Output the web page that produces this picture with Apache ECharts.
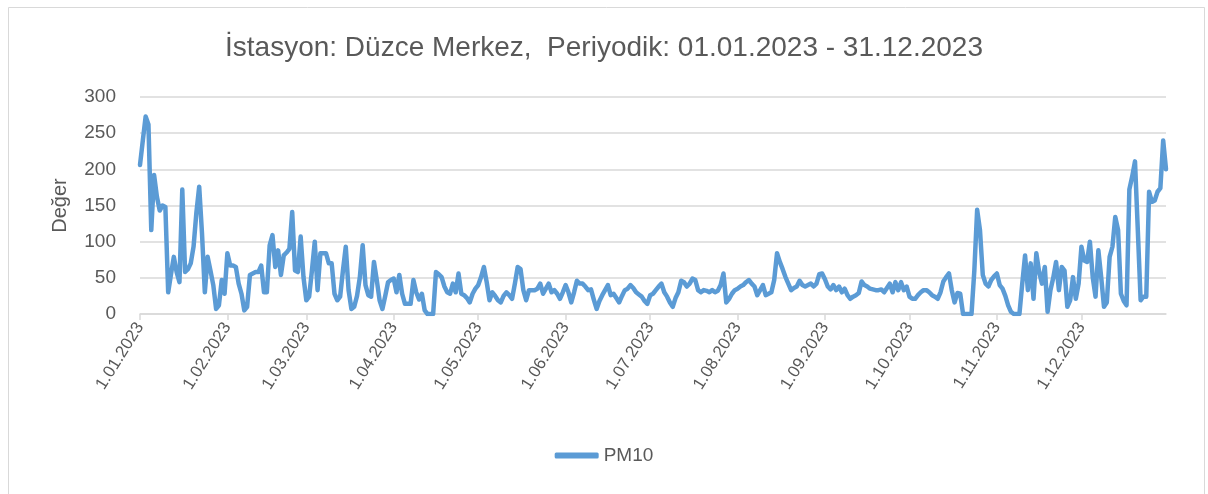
<!DOCTYPE html>
<html>
<head>
<meta charset="utf-8">
<script src="https://cdn.jsdelivr.net/npm/echarts@6/dist/echarts.min.js"></script>
<style>
html,body{margin:0;padding:0;background:#fff;}
#chart{width:1208px;height:494px;}
</style>
</head>
<body>
<div id="chart"></div>
<script>
// Daily PM10 values (µg/m³)
const jan = [206, 240, 273, 262, 116, 192, 162, 143, 150, 148, 30, 55, 79, 58, 44, 172, 58, 62, 70, 93, 140, 176, 111, 30, 79, 60, 40, 7, 12, 47, 28];
const feb = [84, 67, 67, 65, 42, 28, 5, 10, 54, 56, 58, 58, 67, 30, 30, 95, 109, 65, 88, 54, 81, 85, 90, 141, 60, 58, 107, 51];
const mar = [19, 24, 60, 100, 33, 84, 84, 84, 70, 70, 28, 19, 24, 60, 93, 33, 7, 10, 25, 51, 95, 40, 26, 24, 72, 47, 19, 7, 25, 44, 47];
const apr = [49, 30, 54, 28, 14, 14, 14, 47, 30, 20, 28, 5, 0, 0, 0, 58, 55, 51, 38, 30, 28, 42, 30, 56, 28, 26, 22, 16, 28, 35];
const may = [40, 51, 65, 44, 19, 30, 25, 19, 16, 25, 30, 26, 21, 42, 65, 62, 33, 19, 33, 33, 33, 35, 42, 28, 35, 42, 30, 33, 28, 21, 30];
const jun = [40, 30, 16, 30, 46, 42, 42, 38, 33, 34, 20, 7, 18, 26, 33, 40, 26, 28, 22, 16, 25, 33, 35, 40, 36, 30, 27, 24, 18, 14];
const jul = [26, 28, 33, 38, 42, 30, 24, 16, 10, 22, 30, 46, 44, 38, 42, 49, 47, 33, 30, 33, 32, 30, 33, 30, 32, 40, 56, 16, 21, 28, 33];
const aug = [35, 38, 40, 44, 47, 42, 38, 26, 33, 40, 26, 28, 30, 47, 84, 72, 62, 51, 42, 33, 36, 38, 46, 40, 38, 40, 42, 38, 42, 55, 56];
const sep = [48, 38, 34, 40, 33, 38, 30, 35, 26, 21, 24, 26, 29, 45, 40, 38, 35, 34, 33, 33, 34, 30, 36, 42, 30, 44, 33, 44, 33, 38];
const oct = [24, 21, 21, 26, 30, 33, 33, 30, 26, 24, 21, 30, 45, 51, 56, 33, 16, 29, 28, 0, 0, 0, 0, 60, 144, 116, 54, 42, 38, 47, 52];
const nov = [56, 40, 35, 25, 12, 3, 0, 0, 0, 42, 81, 33, 70, 21, 84, 58, 42, 65, 3, 33, 50, 72, 33, 65, 60, 10, 19, 51, 21, 42];
const dec = [93, 74, 72, 100, 51, 24, 88, 51, 10, 16, 79, 93, 134, 116, 28, 18, 12, 172, 190, 211, 116, 19, 24, 24, 169, 155, 157, 169, 174, 240, 200];

const months = [jan, feb, mar, apr, may, jun, jul, aug, sep, oct, nov, dec];
const monthLabels = ["1.01.2023", "1.02.2023", "1.03.2023", "1.04.2023", "1.05.2023", "1.06.2023",
                     "1.07.2023", "1.08.2023", "1.09.2023", "1.10.2023", "1.11.2023", "1.12.2023"];
const yTicks = [0, 50, 100, 150, 200, 250, 300];

// Build day categories (d.mm.2023) and the value list
const categories = [];
const pm10 = [];
months.forEach(function (arr, m) {
  arr.forEach(function (v, d) {
    categories.push((d + 1) + "." + String(m + 1).padStart(2, "0") + ".2023");
    pm10.push(v);
  });
});
const isMonthStart = function (idx, val) { return monthLabels.indexOf(val) !== -1; };

const chart = echarts.init(document.getElementById('chart'));
const txt = '#595959';
const fam = '"Liberation Sans", "DejaVu Sans", sans-serif';
chart.setOption({
  animation: false,
  backgroundColor: '#ffffff',
  textStyle: { fontFamily: fam },
  title: {
    text: 'İstasyon: Düzce Merkez,  Periyodik: 01.01.2023 - 31.12.2023',
    left: 'center', top: 29,
    textStyle: { color: txt, fontSize: 28, fontWeight: 'normal', fontFamily: fam }
  },
  graphic: [{
    type: 'rect', left: 6, top: 5,
    shape: { width: 1196, height: 487 },
    style: { fill: 'none', stroke: '#d9d9d9', lineWidth: 1 },
    silent: true, z: -1
  }],
  legend: {
    bottom: 24, left: 'center',
    icon: 'roundRect', itemWidth: 44, itemHeight: 6, itemGap: 8,
    textStyle: { color: txt, fontSize: 19, fontFamily: fam },
    data: ['PM10']
  },
  grid: { left: 140, right: 42, top: 97, bottom: 180, containLabel: false },
  xAxis: {
    type: 'category',
    data: categories,
    boundaryGap: false,
    axisLine: { show: true, lineStyle: { color: '#d9d9d9', width: 1.5 } },
    axisTick: { show: true, interval: isMonthStart, length: 6, lineStyle: { color: '#d9d9d9', width: 1.5 } },
    axisLabel: {
      interval: isMonthStart, rotate: 58, color: txt, fontSize: 17, margin: 10, fontFamily: fam
    },
    splitLine: { show: false }
  },
  yAxis: {
    type: 'value',
    min: yTicks[0], max: yTicks[yTicks.length - 1], interval: 50,
    name: 'Değer', nameLocation: 'middle', nameGap: 70, nameRotate: 90,
    nameTextStyle: { color: txt, fontSize: 20, fontFamily: fam },
    axisLine: { show: false },
    axisTick: { show: false },
    axisLabel: { color: txt, fontSize: 19, margin: 24, fontFamily: fam },
    splitLine: { lineStyle: { color: '#d9d9d9', width: 1.5 } }
  },
  series: [{
    name: 'PM10',
    type: 'line',
    data: pm10,
    showSymbol: false,
    symbol: 'none',
    lineStyle: { color: '#5b9bd5', width: 4.5, cap: 'round', join: 'round' },
    itemStyle: { color: '#5b9bd5' }
  }]
});
</script>
</body>
</html>
